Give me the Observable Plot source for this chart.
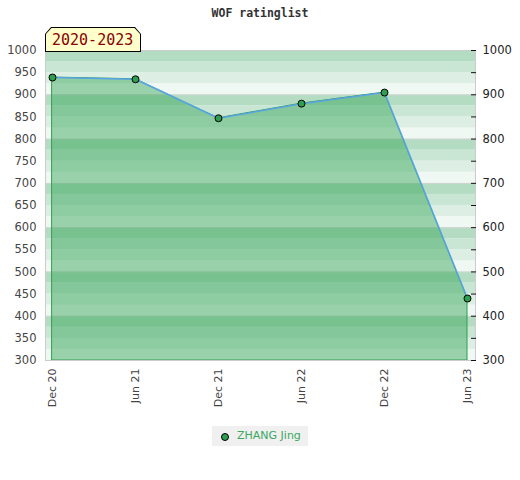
<!DOCTYPE html>
<html>
<head>
<meta charset="utf-8">
<script src="https://cdn.jsdelivr.net/npm/d3@7"></script>
<script src="https://cdn.jsdelivr.net/npm/@observablehq/plot@0.6"></script>
<style>
  html, body { margin: 0; padding: 0; background: #fff; }
  #wrap { position: relative; width: 520px; height: 480px; overflow: hidden; }
  #title { position: absolute; left: 0; width: 520px; top: 6px; text-align: center;
    font: bold 11.5px "DejaVu Sans Mono", monospace; color: #333; }
  #badgeOuter { position: absolute; left: 45px; top: 27px; width: 96px; height: 25px; background: #000;
    clip-path: polygon(0 7px, 6px 0, 90px 0, 96px 7px, 96px 25px, 0 25px); }
  #badgeInner { position: absolute; left: 1px; top: 1px; width: 94px; height: 23px; background: #ffffcc;
    clip-path: polygon(0 6px, 5.5px 0, 88.5px 0, 94px 6px, 94px 23px, 0 23px);
    font: 15px "DejaVu Sans Mono", monospace; color: #8b0000; line-height: 25px; text-indent: 6px; }
  #legend { position: absolute; left: 212px; top: 426px; width: 96px; height: 20px; background: #f0f0f0;
    font: 11px "DejaVu Sans", sans-serif; color: #3aa860; line-height: 20px; }
  #legend .dot { position: absolute; left: 8.5px; top: 6.5px; width: 6px; height: 6px; border-radius: 50%;
    background: #2e9e50; border: 1px solid #000; }
  #legend .txt { position: absolute; left: 25px; top: 0; }
  svg { position: absolute; left: 0; top: 0; }
</style>
</head>
<body>
<div id="wrap">
  <div id="chart"></div>
  <div id="title">WOF ratinglist</div>
  <div id="badgeOuter"><div id="badgeInner">2020-2023</div></div>
  <div id="legend"><span class="dot"></span><span class="txt">ZHANG Jing</span></div>
</div>
<script>
const periods = ["Dec 20", "Jun 21", "Dec 21", "Jun 22", "Dec 22", "Jun 23"];
const ratings = [939, 935, 847, 880, 905, 440];
const playerName = "ZHANG Jing";
const yMin = 300, yMax = 1000;
const leftTicks = d3.range(300, 1001, 50);
const rightTicks = d3.range(300, 1001, 50);
const bandColors = ["#f0f8f3", "#ddefe4", "#c9e6d5", "#b3dcc3"]; // bottom to top within each 100

const data = periods.map((p, i) => ({period: p, rating: ratings[i]}));
const bands = d3.range(yMin, yMax, 25).map(v => ({y1: v, y2: v + 25, c: bandColors[((v - yMin) / 25) % 4]}));

const chart = Plot.plot({
  width: 520,
  height: 480,
  marginTop: 50,
  marginBottom: 120,
  marginLeft: 45,
  marginRight: 45,
  style: {fontFamily: "DejaVu Sans, sans-serif", fontSize: "11px", color: "#444", background: "transparent"},
  x: {type: "point", domain: periods, padding: 0, insetLeft: 6, insetRight: 7, label: null},
  y: {domain: [yMin, yMax], label: null},
  marks: [
    Plot.rect(bands, {y1: "y1", y2: "y2", fill: "c"}),
    Plot.ruleY(d3.range(400, 1000, 100), {stroke: "#d4d4d4", strokeWidth: 1}),
    Plot.areaY(data, {x: "period", y1: yMin, y2: "rating", fill: "rgb(51,163,84)", fillOpacity: 0.46,
      stroke: "#2f9e50", strokeWidth: 1}),
    Plot.line(data, {x: "period", y: "rating", stroke: "#58a4e4", strokeWidth: 1.5}),
    Plot.dot(data, {x: "period", y: "rating", r: 3.5, fill: "#2e9e50", stroke: "#000", strokeWidth: 1}),
    Plot.frame({stroke: "#cccccc"}),
    Plot.axisY(leftTicks, {anchor: "left", tickSize: 0, tickPadding: 9, fontSize: 11.5, fill: "#444",
      tickFormat: d => String(d)}),
    Plot.axisY(rightTicks, {anchor: "right", tickSize: -5, tickPadding: 12, fontSize: 11.5, fill: "#222",
      stroke: "#111", tickFormat: d => d % 100 === 0 ? String(d) : ""}),
    Plot.axisX({tickSize: 0, tickPadding: 8, tickRotate: -90, fontSize: 11, fill: "#444"})
  ]
});
document.getElementById("chart").appendChild(chart);
</script>
</body>
</html>
